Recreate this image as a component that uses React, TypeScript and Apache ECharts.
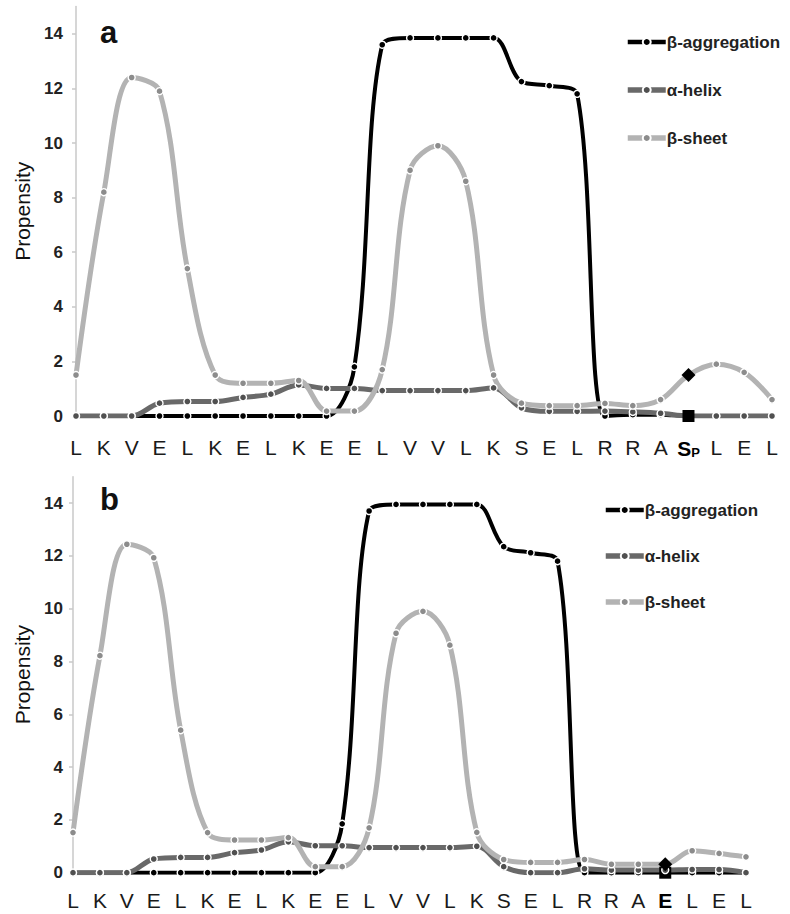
import React, { useEffect, useRef } from "react";
import * as echarts from "echarts";

// ---- Data ----
const categoriesA = ["L","K","V","E","L","K","E","L","K","E","E","L","V","V","L","K","S","E","L","R","R","A","S","L","E","L"];
const categoriesB = ["L","K","V","E","L","K","E","L","K","E","E","L","V","V","L","K","S","E","L","R","R","A","E","L","E","L"];
const highlightIndex = 22;
const yTicks = [0, 2, 4, 6, 8, 10, 12, 14];
const seriesNames = ["β-aggregation", "α-helix", "β-sheet"];

const aggregationA = [0,0,0,0,0,0,0,0,0,0,1.8,13.6,13.85,13.85,13.85,13.85,12.25,12.1,11.8,0,0.05,0.05,0,0,0,0];
const helixA = [0,0,0,0.47,0.53,0.53,0.68,0.8,1.14,1.01,1.01,0.93,0.93,0.93,0.93,1.03,0.3,0.17,0.17,0.18,0.15,0.1,0,0,0,0];
const sheetA = [1.5,8.2,12.4,11.9,5.4,1.5,1.2,1.2,1.3,0.18,0.18,1.7,9.0,9.9,8.6,1.5,0.47,0.38,0.38,0.46,0.38,0.6,1.5,1.9,1.6,0.6];

const aggregationB = [0,0,0,0,0,0,0,0,0,0,1.85,13.7,13.95,13.95,13.95,13.95,12.35,12.12,11.8,0,0,0,0,0,0,0];
const helixB = [0,0,0,0.52,0.58,0.58,0.76,0.86,1.17,1.02,1.02,0.95,0.95,0.95,0.95,1.0,0.23,0,0,0.15,0.1,0.1,0.1,0.12,0.12,0];
const sheetB = [1.52,8.22,12.44,11.93,5.4,1.52,1.24,1.24,1.33,0.23,0.23,1.7,9.07,9.9,8.62,1.53,0.5,0.39,0.39,0.5,0.32,0.32,0.32,0.83,0.73,0.6];

const FONT = "Liberation Sans, Arial, Helvetica, sans-serif";

const styles = [
  { line: "#000000", marker: "#000000", width: 4 },
  { line: "#696969", marker: "#505050", width: 5 },
  { line: "#b3b3b3", marker: "#8c8c8c", width: 5 },
];

function buildSeries(values: number[], styleIdx: number, axisIdx: number, special: "square" | "diamond" | "hide" | null) {
  const st = styles[styleIdx];
  const data = values.map((v, i) => {
    if (i === highlightIndex && special) {
      if (special === "hide") return { value: v, symbolSize: 0 };
      return {
        value: v,
        symbol: special,
        symbolSize: special === "diamond" ? 14 : 12,
        itemStyle: { color: "#000", borderWidth: 0 },
      };
    }
    return v;
  });
  return {
    type: "line",
    name: seriesNames[styleIdx],
    xAxisIndex: axisIdx,
    yAxisIndex: axisIdx,
    data,
    smooth: 0.35,
    symbol: "circle",
    symbolSize: 7,
    showAllSymbol: true,
    lineStyle: { color: st.line, width: st.width },
    itemStyle: { color: st.marker, borderColor: "#ffffff", borderWidth: 1.4 },
    emphasis: { disabled: true },
  };
}

function xAxisFor(cats: string[], grid: number, margin: number, panel: "a" | "b") {
  return {
    type: "category",
    gridIndex: grid,
    data: cats,
    boundaryGap: false,
    axisLine: { show: false },
    axisTick: { show: false },
    axisLabel: {
      interval: 0,
      margin,
      fontFamily: FONT,
      fontSize: 21,
      color: "#1a1a1a",
      formatter: (value: string, index: number) => {
        if (index === highlightIndex) {
          return panel === "a" ? "{b|S}{sub|P}" : "{b|" + value + "}";
        }
        return value;
      },
      rich: {
        b: { fontFamily: FONT, fontSize: 21, fontWeight: "bold", color: "#000", lineHeight: 22, verticalAlign: "middle" },
        sub: { fontFamily: FONT, fontSize: 13, fontWeight: "bold", color: "#000", lineHeight: 8, verticalAlign: "bottom" },
      },
    },
  };
}

function yAxisFor(grid: number, margin: number, nameGap: number) {
  return {
    type: "value",
    gridIndex: grid,
    min: 0,
    max: 15,
    name: "Propensity",
    nameLocation: "middle",
    nameGap,
    nameTextStyle: { fontFamily: FONT, fontSize: 21, color: "#111" },
    axisLine: { show: true, lineStyle: { color: "#c8c8c8", width: 1.5 } },
    axisTick: { show: true, length: 4, inside: false, customValues: yTicks, lineStyle: { color: "#c8c8c8", width: 1.5 } },
    axisLabel: {
      customValues: yTicks,
      margin,
      fontFamily: FONT,
      fontSize: 17,
      fontWeight: "bold",
      color: "#222",
    },
    splitLine: { show: false },
  };
}

function legendFor(left: number, top: number, gap: number) {
  return {
    orient: "vertical",
    left,
    top,
    padding: 0,
    itemWidth: 38,
    itemHeight: 10,
    itemGap: gap,
    selectedMode: false,
    data: seriesNames.map((n, i) => ({ name: n, lineStyle: { width: styles[i].width + 0.5, color: styles[i].line } })),
    textStyle: { fontFamily: FONT, fontSize: 17, fontWeight: "bold", color: "#222", lineHeight: 20, padding: [0, 0, 0, -4] },
  };
}

export default function App() {
  const ref = useRef<HTMLDivElement | null>(null);
  useEffect(() => {
    document.body.style.margin = "0";
    if (!ref.current) return;
    const chart = echarts.init(ref.current, undefined, { renderer: "svg" });
    const option = {
      animation: false,
      backgroundColor: "#ffffff",
      grid: [
        { left: 76, right: 18, top: 6.5, height: 409.5, containLabel: false },
        { left: 73, right: 44, top: 476.7, height: 396, containLabel: false },
      ],
      xAxis: [xAxisFor(categoriesA, 0, 21, "a"), xAxisFor(categoriesB, 1, 17, "b")],
      yAxis: [yAxisFor(0, 13, 42), yAxisFor(1, 10, 40)],
      legend: [legendFor(625, 32, 28), legendFor(603, 500, 26)],
      graphic: [
        { type: "text", left: 100, top: 17, style: { text: "a", font: "bold 31px " + FONT, fill: "#111" } },
        { type: "text", left: 100, top: 484, style: { text: "b", font: "bold 31px " + FONT, fill: "#111" } },
      ],
      series: [
        buildSeries(aggregationA, 0, 0, "square"),
        buildSeries(helixA, 1, 0, "hide"),
        buildSeries(sheetA, 2, 0, "diamond"),
        buildSeries(aggregationB, 0, 1, "square"),
        buildSeries(helixB, 1, 1, null),
        buildSeries(sheetB, 2, 1, "diamond"),
      ],
    };
    chart.setOption(option as any);
    return () => chart.dispose();
  }, []);
  return <div ref={ref} style={{ width: 790, height: 914 }} />;
}
